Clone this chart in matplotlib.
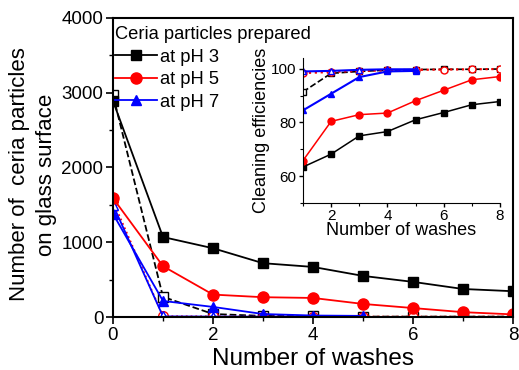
import matplotlib
matplotlib.use("Agg")
import matplotlib.pyplot as plt
from matplotlib.ticker import MultipleLocator

plt.rcParams['font.family'] = ['Liberation Sans', 'DejaVu Sans']

washes = [0, 1, 2, 3, 4, 5, 6, 7, 8]
washes_b = [0, 1, 2, 3, 4, 5]
ph3_solid = [2890, 1070, 920, 720, 670, 550, 470, 375, 345]
ph3_open = [2970, 270, 40, 15, 10, 5, 5, 5, 5]
ph5_solid = [1590, 680, 300, 265, 255, 175, 120, 65, 35]
ph5_open = [1550, 10, 8, 6, 5, 5, 5, 5, 5]
ph7_solid = [1380, 215, 135, 40, 20, 15]
ph7_open = [1500, 8, 6, 5, 5, 5]

in_x = [1, 2, 3, 4, 5, 6, 7, 8]
in_x_b = [1, 2, 3, 4, 5]
eff3_solid = [63.4, 68.2, 75.0, 76.6, 81.0, 83.7, 86.6, 87.8]
eff5_solid = [65.8, 80.4, 82.9, 83.5, 88.1, 92.0, 95.9, 97.1]
eff7_solid = [84.5, 90.7, 96.9, 99.0, 99.2]
eff3_open = [91.4, 98.3, 99.0, 99.5, 99.7, 99.8, 99.8, 99.9]
eff5_open = [98.4, 98.8, 99.2, 99.4, 99.6, 99.7, 99.8, 99.9]
eff7_open = [99.0, 99.2, 99.6, 99.8, 99.8]

labels = ['at pH 3', 'at pH 5', 'at pH 7']

fig = plt.figure(figsize=(5.19, 3.70), dpi=100)
ax = fig.add_axes([0.2177, 0.1432, 0.7707, 0.8082])

ms = 7
lw = 1.3
ax.plot(washes, ph3_open, 'k--', marker='s', mfc='white', mec='k', ms=ms, lw=lw)
ax.plot(washes, ph5_open, color='red', ls=':', marker='o', mfc='white', mec='red', ms=ms, lw=lw)
ax.plot(washes_b, ph7_open, color='blue', ls='-', marker='^', mfc='white', mec='blue', ms=ms, lw=lw)
h3, = ax.plot(washes, ph3_solid, 'k-', marker='s', ms=ms, lw=lw, label=labels[0])
h5, = ax.plot(washes, ph5_solid, color='red', marker='o', ms=ms + 1, lw=lw, label=labels[1])
h7, = ax.plot(washes_b, ph7_solid, color='blue', marker='^', ms=ms, lw=lw, label=labels[2])

ax.set_xlim(0, 8)
ax.set_ylim(0, 4000)
ax.xaxis.set_major_locator(MultipleLocator(2))
ax.xaxis.set_minor_locator(MultipleLocator(1))
ax.yaxis.set_major_locator(MultipleLocator(1000))
ax.yaxis.set_minor_locator(MultipleLocator(500))
ax.tick_params(which='major', direction='out', length=5, width=1.2, labelsize=13.5, pad=2)
ax.tick_params(which='minor', direction='out', length=3, width=1.0)
for s in ax.spines.values():
    s.set_linewidth(1.5)
ax.set_xlabel('Number of washes', fontsize=17.5, labelpad=3)
ax.set_ylabel('Number of  ceria particles\non glass surface', fontsize=16, linespacing=1.35)
ax.yaxis.set_label_coords(-0.14, 0.477)

leg = ax.legend(handles=[h3, h5, h7], title='Ceria particles prepared', loc='upper left',
                frameon=False, fontsize=13.2, title_fontsize=13.2, alignment='left',
                handlelength=2.3, handletextpad=0.2, labelspacing=0.3,
                borderaxespad=0.0, bbox_to_anchor=(-0.005, 0.985), borderpad=0.2)

ins = fig.add_axes([0.5838, 0.4514, 0.3796, 0.3918])
ims = 4
ins.plot(in_x, eff3_open, 'k--', marker='s', mfc='white', mec='k', ms=ims, lw=1.2)
ins.plot(in_x, eff5_open, color='red', ls=':', marker='o', mfc='white', mec='red', ms=ims + 1, lw=1.6)
ins.plot(in_x_b, eff7_open, color='blue', ls='-', marker='^', mfc='white', mec='blue', ms=ims + 1, lw=1.5)
ins.plot(in_x, eff3_solid, 'k-', marker='s', ms=ims, lw=1.1)
ins.plot(in_x, eff5_solid, color='red', marker='o', ms=ims + 1, lw=1.1)
ins.plot(in_x_b, eff7_solid, color='blue', marker='^', ms=ims + 1, lw=1.5)
ins.set_xlim(1, 8)
ins.set_ylim(50, 104)
ins.xaxis.set_major_locator(MultipleLocator(2))
ins.xaxis.set_minor_locator(MultipleLocator(1))
ins.yaxis.set_major_locator(MultipleLocator(20))
ins.yaxis.set_minor_locator(MultipleLocator(10))
ins.spines['top'].set_visible(False)
ins.spines['right'].set_visible(False)
ins.tick_params(which='major', direction='out', length=3, width=1.0, labelsize=11, pad=1.5)
ins.tick_params(which='minor', direction='out', length=2, width=0.8)
ins.set_xlabel('Number of washes', fontsize=13, labelpad=-1)
ins.set_ylabel('Cleaning efficiencies', fontsize=13, labelpad=1)
ins.patch.set_alpha(0)

fig.savefig('out.png', dpi=100)
